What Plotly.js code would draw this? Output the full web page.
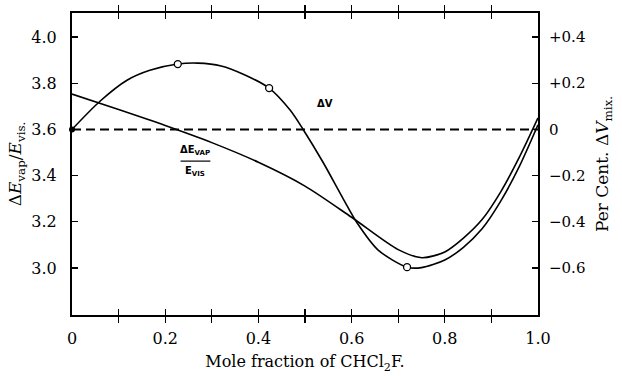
<!DOCTYPE html>
<html>
<head>
<meta charset="utf-8">
<script src="https://cdn.plot.ly/plotly-3.0.1.min.js"></script>
<style>html,body{margin:0;padding:0;background:#fff;}#chart{width:622px;height:376px;}</style>
</head>
<body>
<div id="chart"></div>
<script>
// ΔV (per cent, right axis)
const dvX = [0, 0.06, 0.118, 0.167, 0.227, 0.27, 0.32, 0.37, 0.423, 0.468, 0.496, 0.539, 0.582, 0.612, 0.657, 0.719, 0.75, 0.80, 0.84, 0.88, 0.92, 0.96, 1.0];
const dvY = [0, 0.122, 0.213, 0.256, 0.283, 0.287, 0.275, 0.237, 0.179, 0.084, 0, -0.143, -0.300, -0.405, -0.522, -0.596, -0.598, -0.565, -0.51, -0.43, -0.31, -0.16, 0.02];
// ΔE_vap / E_vis (left axis)
const deX = [0, 0.1, 0.2, 0.3, 0.4, 0.5, 0.6, 0.7, 0.751, 0.80, 0.84, 0.88, 0.92, 0.96, 1.0];
const deY = [3.753, 3.686, 3.617, 3.543, 3.458, 3.355, 3.22, 3.08, 3.045, 3.07, 3.13, 3.21, 3.33, 3.48, 3.65];
// experimental points on ΔV
const openX = [0.227, 0.423, 0.719];
const openY = [0.283, 0.179, -0.596];
const fillX = [0];
const fillY = [0];
// zero line
const zeroX = [0, 1];
const zeroY = [0, 0];
// ticks
const xTickVals = [0, 0.1, 0.2, 0.3, 0.4, 0.5, 0.6, 0.7, 0.8, 0.9, 1.0];
const xTickText = ['0', '', '0.2', '', '0.4', '', '0.6', '', '0.8', '', '1.0'];
const yTickVals = [3.0, 3.2, 3.4, 3.6, 3.8, 4.0];
const yTickText = ['3.0', '3.2', '3.4', '3.6', '3.8', '4.0'];
const y2TickVals = [-0.6, -0.4, -0.2, 0, 0.2, 0.4];
const y2TickText = ['\u22120.6', '\u22120.4', '\u22120.2', '0', '+0.2', '+0.4'];

const serif = 'DejaVu Serif, serif';
const traces = [
  {x: zeroX, y: zeroY, yaxis: 'y2', mode: 'lines', line: {color: '#000', width: 2, dash: '9px,5px'}, hoverinfo: 'skip'},
  {x: deX, y: deY, mode: 'lines', line: {color: '#000', width: 1.6, shape: 'spline', smoothing: 0.8}},
  {x: dvX, y: dvY, yaxis: 'y2', mode: 'lines', line: {color: '#000', width: 1.6, shape: 'spline', smoothing: 0.8}},
  {x: openX, y: openY, yaxis: 'y2', mode: 'markers', marker: {symbol: 'circle', size: 7, color: '#fff', line: {width: 1.3, color: '#000'}}},
  {x: fillX, y: fillY, yaxis: 'y2', mode: 'markers', marker: {symbol: 'circle', size: 6, color: '#000'}, cliponaxis: false}
];

const layout = {
  width: 622, height: 376,
  margin: {l: 72, r: 84, t: 13, b: 61},
  paper_bgcolor: '#fff', plot_bgcolor: '#fff',
  showlegend: false,
  font: {family: serif, color: '#000', size: 16},
  xaxis: {
    range: [0, 1], tickmode: 'array', tickvals: xTickVals, ticktext: xTickText,
    ticks: 'inside', ticklen: 6, tickwidth: 1.2, tickcolor: '#000',
    showline: true, linewidth: 2, linecolor: '#000', mirror: 'allticks',
    showgrid: false, zeroline: false, ticklabelstandoff: 8,
    tickfont: {family: serif, size: 16, color: '#000'},
    title: {text: 'Mole fraction of CHCl<sub>2</sub>F.', font: {family: serif, size: 16}, standoff: 9}
  },
  yaxis: {
    range: [2.797, 4.104], tickmode: 'array', tickvals: yTickVals, ticktext: yTickText,
    ticks: 'inside', ticklen: 6, tickwidth: 1.2, tickcolor: '#000',
    showline: true, linewidth: 2, linecolor: '#000',
    showgrid: false, zeroline: false, ticklabelstandoff: 10,
    tickfont: {family: serif, size: 16, color: '#000'},
    title: {text: '\u0394<i>E</i><sub>vap</sub>/<i>E</i><sub>vis.</sub>', font: {family: serif, size: 17}, standoff: 5}
  },
  yaxis2: {
    overlaying: 'y', side: 'right',
    range: [-0.803, 0.504], tickmode: 'array', tickvals: y2TickVals, ticktext: y2TickText,
    ticks: 'inside', ticklen: 6, tickwidth: 1.2, tickcolor: '#000',
    showline: true, linewidth: 2, linecolor: '#000',
    showgrid: false, zeroline: false, ticklabelstandoff: 6,
    tickfont: {family: serif, size: 15, color: '#000'},
    title: {text: 'Per Cent. \u0394<i>V</i><sub>mix.</sub>', font: {family: serif, size: 17}, standoff: 12}
  },
  annotations: [
    {x: 0.543, y: 3.714, xref: 'x', yref: 'y', text: '<b>\u0394V</b>', showarrow: false,
     font: {family: 'DejaVu Sans, sans-serif', size: 10, color: '#000'}},
    {x: 0.265, y: 3.47, xref: 'x', yref: 'y', text: '<b>\u0394E<sub>VAP</sub></b>', showarrow: false, yanchor: 'bottom',
     font: {family: 'DejaVu Sans, sans-serif', size: 10, color: '#000'}},
    {x: 0.265, y: 3.455, xref: 'x', yref: 'y', text: '<b>E<sub>VIS</sub></b>', showarrow: false, yanchor: 'top',
     font: {family: 'DejaVu Sans, sans-serif', size: 10, color: '#000'}}
  ],
  shapes: [
    {type: 'line', xref: 'x', yref: 'y', x0: 0.233, x1: 0.297, y0: 3.463, y1: 3.463, line: {color: '#000', width: 1.2}}
  ]
};

Plotly.newPlot('chart', traces, layout, {displayModeBar: false, staticPlot: true});
</script>
</body>
</html>
